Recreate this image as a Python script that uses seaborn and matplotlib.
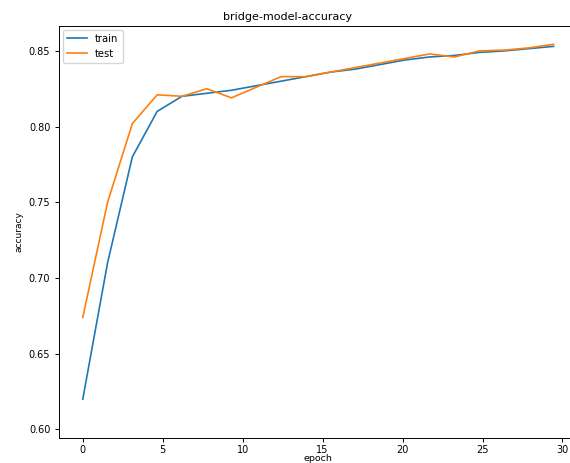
import numpy as np
import pandas as pd
import seaborn as sns
import matplotlib
matplotlib.use('Agg')
import matplotlib.pyplot as plt

# values
epoch = [0, 1.55, 3.1, 4.65, 6.2, 7.75, 9.3, 10.85, 12.4, 13.95,
         15.5, 17.05, 18.6, 20.15, 21.7, 23.25, 24.8, 26.35, 27.9, 29.45]
train = [0.620, 0.710, 0.780, 0.810, 0.820, 0.822, 0.824, 0.827, 0.830, 0.833,
         0.836, 0.838, 0.841, 0.844, 0.846, 0.847, 0.849, 0.850, 0.8515, 0.853]
test = [0.674, 0.750, 0.802, 0.821, 0.820, 0.825, 0.819, 0.826, 0.833, 0.833,
        0.836, 0.839, 0.842, 0.845, 0.848, 0.846, 0.850, 0.8505, 0.852, 0.8544]

df = pd.DataFrame({'epoch': epoch * 2,
                   'accuracy': train + test,
                   'set': ['train'] * len(train) + ['test'] * len(test)})

fig = plt.figure(figsize=(5.7, 4.63), dpi=100)
ax = fig.add_axes([0.104, 0.054, 0.908, 0.89])

sns.lineplot(data=df, x='epoch', y='accuracy', hue='set',
             palette=['#1f77b4', '#ff7f0e'], linewidth=1.2, ax=ax)

ax.set_xlim(-1.47, 30.9)
ax.set_ylim(0.5943, 0.8665)
ax.set_xticks([0, 5, 10, 15, 20, 25, 30])
ax.set_yticks([0.60, 0.65, 0.70, 0.75, 0.80, 0.85])
ax.set_yticklabels(['0.60', '0.65', '0.70', '0.75', '0.80', '0.85'])
ax.tick_params(labelsize=7, length=3, width=0.7)
ax.tick_params(axis='x', pad=2)
for s in ax.spines.values():
    s.set_linewidth(0.7)

ax.set_xlabel('epoch', fontsize=6.8, labelpad=-0.6)
ax.set_ylabel('accuracy', fontsize=6.5)
ax.set_title('bridge-model-accuracy', fontsize=8, x=0.442, pad=4)
ax.legend(loc='upper left', fontsize=7.2, handlelength=2, borderaxespad=0.4)

fig.savefig('out.png', dpi=100)
